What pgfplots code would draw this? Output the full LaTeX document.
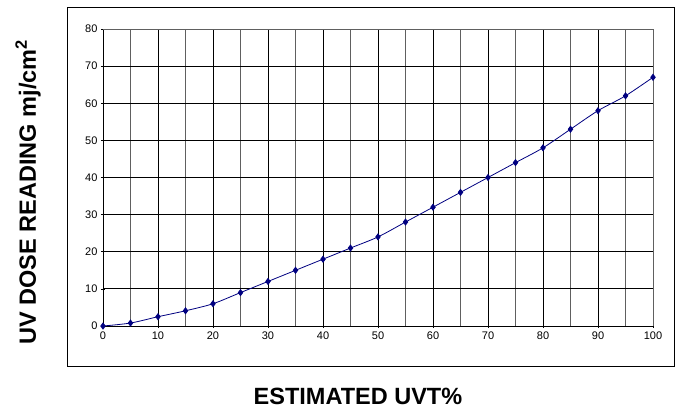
\documentclass[border=0pt]{standalone}
\usepackage{pgfplots}
\pgfplotsset{compat=1.18}
\usepackage{fontspec}
\setmainfont{Liberation Sans}
\definecolor{xlnavy}{RGB}{0,0,128}
\definecolor{gridgray}{RGB}{96,96,96}

\begin{document}
\begin{tikzpicture}
  % page = reference image, 1px = 1pt, axis origin at (103px,326px)
  \useasboundingbox (-103pt,-84pt) rectangle (574pt,326pt);
  \draw[black, line width=0.8pt] (-36pt,-40pt) rectangle (571pt,319pt);

  \begin{axis}[
      at={(0pt,0pt)}, anchor=south west,
      scale only axis,
      width=550pt, height=297pt,
      xmin=0, xmax=100,
      ymin=0, ymax=80,
      xtick={0,10,...,100},
      ytick={0,10,...,70},
      extra y ticks={80},
      extra y tick style={grid style={gridgray, line width=0.9pt}},
      minor x tick num=1,
      minor tick length=0pt,
      major tick length=4pt,
      tick align=outside,
      tick style={black, line width=0.7pt},
      axis lines=left,
      axis line style={-, black, line width=0.9pt},
      grid=both,
      major grid style={black, line width=0.8pt},
      minor grid style={gridgray, line width=0.9pt},
      ticklabel style={font=\fontsize{11}{13}\selectfont},
      /pgf/number format/assume math mode=true,
      clip=false,
    ]

    % extra gray lines for the right and top edges of the plot area
    \draw[gridgray, line width=0.9pt] (axis cs:100,0) -- (axis cs:100,80);
    \draw[gridgray, line width=0.9pt] (axis cs:0,80) -- (axis cs:100,80);

    \addplot[xlnavy, line width=0.8pt, smooth, tension=0.5,
             mark=diamond*, mark size=3pt,
             mark options={solid, fill=xlnavy, draw=xlnavy}]
    coordinates {
        (0, 0)
        (5, 0.8)
        (10, 2.5)
        (15, 4.1)
        (20, 6)
        (25, 9)
        (30, 12)
        (35, 15)
        (40, 18)
        (45, 21)
        (50, 24)
        (55, 28)
        (60, 32)
        (65, 36)
        (70, 40)
        (75, 44)
        (80, 48)
        (85, 53)
        (90, 58)
        (95, 62)
        (100, 67)
      };

    % axis titles
    \node[anchor=base, inner sep=1pt, font=\bfseries\fontsize{23.5}{26}\selectfont]
      at (axis description cs:0.4636,-0.263) {ESTIMATED UVT\%};
    \node[rotate=90, anchor=center, font=\bfseries\fontsize{23.5}{26}\selectfont]
      at (axis description cs:-0.1364,0.451) {UV DOSE READING mj/cm\textsuperscript{2}};
  \end{axis}
\end{tikzpicture}
\end{document}
